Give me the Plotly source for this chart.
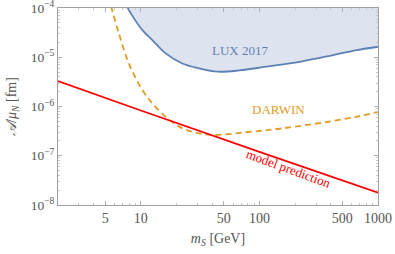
import math
import plotly.graph_objects as go

# ---- data ----
model_mass = [2, 10, 100, 1000]
model_val = [3.3e-6, 8.3e-7, 1.2e-7, 1.78e-8]

lux_mass = [7.6, 8.4, 10.3, 12.5, 16.2, 22.4, 30.9, 44.3, 67.6, 114, 218, 418, 660, 1000]
lux_val = [1.1e-4, 7.2e-5, 3.57e-5, 2.24e-5, 1.2e-5, 7.5e-6, 5.97e-6, 5.1e-6, 5.4e-6,
           6.45e-6, 8.1e-6, 1.11e-5, 1.40e-5, 1.64e-5]

darwin_mass = [5.6, 6.52, 7.91, 10.3, 12.5, 16.2, 21, 28, 40.2, 77, 130, 200, 400, 700, 1000]
darwin_val = [1.1e-4, 3.06e-5, 7.5e-6, 2.16e-6, 1.16e-6, 6.2e-7, 3.9e-7, 3.0e-7, 2.64e-7,
              3.0e-7, 3.4e-7, 3.9e-7, 5.0e-7, 6.4e-7, 7.8e-7]

x_tickvals = [5, 10, 50, 100, 500, 1000]
x_ticktext = ["5", "10", "50", "100", "500", "1000"]
y_tickvals = [1e-8, 1e-7, 1e-6, 1e-5, 1e-4]
y_ticktext = ["10<sup>−8</sup>", "10<sup>−7</sup>", "10<sup>−6</sup>", "10<sup>−5</sup>", "10<sup>−4</sup>"]
x_range = [2, 1000]
y_range = [1e-8, 1e-4]

BLUE = "#5E81B5"
ORANGE = "#E19C24"
RED = "#FF0000"
FONT = "Liberation Serif"
TXT = "#555555"

x_minor = [m * 10 ** e for e in range(0, 3) for m in range(2, 10) if 2 < m * 10 ** e < 1000]
y_minor = [m * 10.0 ** e for e in range(-8, -4) for m in range(2, 10)]

fig = go.Figure()

fig.add_trace(go.Scatter(
    x=lux_mass + [lux_mass[-1], lux_mass[0]],
    y=lux_val + [y_range[1], y_range[1]],
    fill="toself", fillcolor="#DEE4EF", line=dict(width=0, color="rgba(0,0,0,0)"),
    line_shape="spline", mode="lines", hoverinfo="skip", showlegend=False))
fig.add_trace(go.Scatter(x=lux_mass, y=lux_val, mode="lines", line_shape="spline",
                         line=dict(color=BLUE, width=1.8), showlegend=False))
fig.add_trace(go.Scatter(x=darwin_mass, y=darwin_val, mode="lines",
                         line=dict(color=ORANGE, width=1.8, dash="6px,4px"),
                         line_shape="spline", showlegend=False))
fig.add_trace(go.Scatter(x=model_mass, y=model_val, mode="lines",
                         line=dict(color=RED, width=1.8), showlegend=False))

fig.add_annotation(x=math.log10(68), y=math.log10(1.4e-5), text="LUX 2017",
                   showarrow=False, font=dict(family=FONT, size=13, color=BLUE))
fig.add_annotation(x=math.log10(145), y=math.log10(8.8e-7), text="DARWIN",
                   showarrow=False, font=dict(family=FONT, size=13, color=ORANGE))
fig.add_annotation(x=math.log10(175), y=math.log10(5.4e-8), text="model prediction",
                   showarrow=False, textangle=20,
                   font=dict(family=FONT, size=13, color=RED))

axis_common = dict(
    type="log", showline=True, linecolor="#A0A0A0", linewidth=1, mirror="ticks",
    ticks="inside", ticklen=4, tickcolor="#B0B0B0", showgrid=False, zeroline=False,
    automargin=False, ticklabeloverflow="allow",
)

fig.update_xaxes(**axis_common, range=[math.log10(x_range[0]), math.log10(x_range[1])],
                 tickmode="array", tickvals=x_tickvals, ticktext=x_ticktext,
                 tickfont=dict(family=FONT, size=14, color=TXT),
                 minor=dict(tickmode="array", tickvals=x_minor, ticks="inside", ticklen=2,
                            tickcolor="#C8C8C8", showgrid=False),
                 title=dict(text="<i>m</i><sub><i>S</i></sub> [GeV]",
                            font=dict(family=FONT, size=14, color=TXT), standoff=8))
fig.update_yaxes(**axis_common, range=[math.log10(y_range[0]) - 0.002, math.log10(y_range[1]) + 0.002],
                 tickmode="array", tickvals=y_tickvals, ticktext=y_ticktext,
                 tickfont=dict(family=FONT, size=13.5, color=TXT),
                 minor=dict(tickmode="array", tickvals=y_minor, ticks="inside", ticklen=2,
                            tickcolor="#C8C8C8", showgrid=False),
                 title=dict(text="<i>𝒜</i>/<i>μ</i><sub><i>N</i></sub> [fm]",
                            font=dict(family=FONT, size=14, color=TXT), standoff=10))

fig.update_layout(width=395, height=254, margin=dict(l=58, r=17, t=8, b=49),
                  plot_bgcolor="white", paper_bgcolor="white")

fig.write_html("out.html", config={"displayModeBar": False},
               post_script="document.body.style.margin='0';")
